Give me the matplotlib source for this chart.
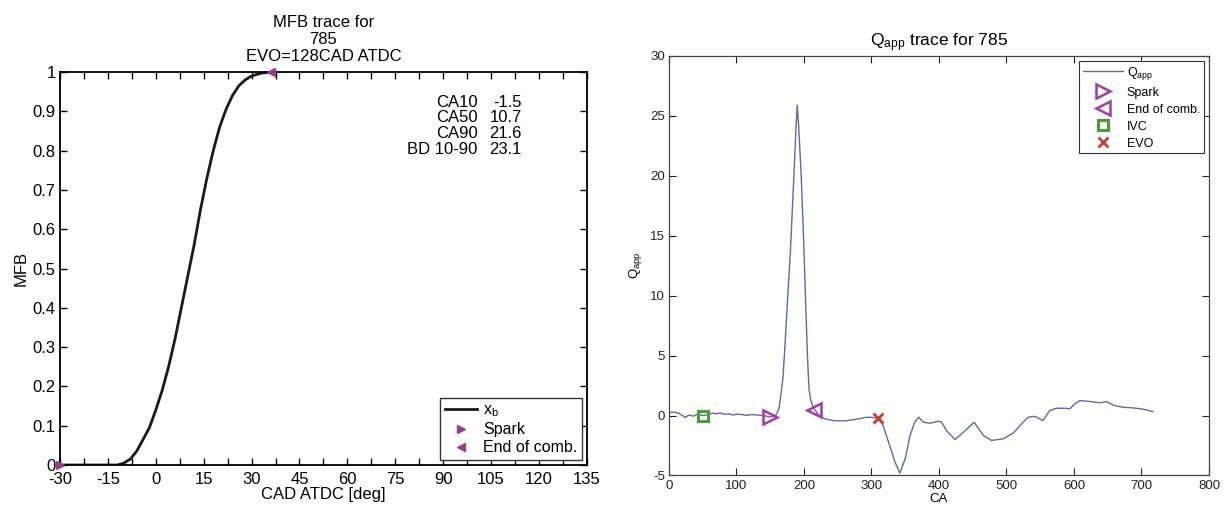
import matplotlib
matplotlib.use('Agg')
import matplotlib.pyplot as plt
import numpy as np
from matplotlib.ticker import MultipleLocator, FormatStrFormatter

plt.rcParams['font.family'] = ['Liberation Sans', 'DejaVu Sans']
plt.rcParams['mathtext.fontset'] = 'custom'
plt.rcParams['mathtext.rm'] = 'Liberation Sans'
plt.rcParams['mathtext.it'] = 'Liberation Sans:italic'
plt.rcParams['axes.unicode_minus'] = False

# --- MFB trace (left) ---
cad = [-30, -12, -10, -8, -6, -4, -2, 0, 2, 4, 6, 8, 10, 12, 14, 16, 18,
       20, 22, 24, 26, 28, 30, 33, 36]
mfb = [0, 0, 0.005, 0.015, 0.035, 0.065, 0.095, 0.14, 0.19, 0.25, 0.32, 0.40,
       0.48, 0.56, 0.65, 0.73, 0.80, 0.86, 0.905, 0.94, 0.965, 0.98, 0.99,
       0.997, 1.0]
spark_mfb = (-30, 0)
eoc_mfb = (36, 1)
ca_names = ['CA10', 'CA50', 'CA90', 'BD 10-90']
ca_vals = ['-1.5', '10.7', '21.6', '23.1']

# --- Qapp trace (right) ---
ca = [0, 8, 14, 20, 24, 30, 36, 42, 51, 58, 64, 70, 76, 82, 88, 95, 102, 108,
      115, 122, 130, 140, 150, 157, 161, 163, 166, 169, 172, 176, 180, 185,
      188, 190, 192, 196, 200, 203, 205.5, 207.5, 210, 213, 216, 221, 231,
      246, 261, 275, 293, 300, 310, 317, 327, 335, 342, 350, 357, 364, 370,
      377, 387, 399, 404, 411, 424, 436, 452, 466, 478, 495, 510, 520, 532,
      542, 554, 564, 574, 587, 594, 601, 609, 624, 638, 648, 660, 673, 688,
      703, 717]
qapp = [0.25, 0.28, 0.2, 0.0, -0.15, 0.05, -0.05, 0.1, 0.0, 0.1, 0.2, 0.15,
        0.22, 0.1, 0.15, 0.05, 0.12, 0.08, 0.02, 0.08, 0.05, 0.0, -0.12, -0.05,
        0.3, 0.6, 1.8, 3.2, 6.0, 10.0, 13.8, 19.9, 23.8, 25.9, 24.3, 19.9,
        13.9, 8.5, 4.5, 2.2, 1.3, 0.8, 0.5, 0.1, -0.28, -0.44, -0.44, -0.33,
        -0.14, -0.15, -0.22, -0.8, -2.5, -3.9, -4.8, -3.6, -1.7, -0.56, -0.14,
        -0.56, -0.64, -0.47, -0.56, -1.25, -2.0, -1.4, -0.56, -1.67, -2.08,
        -1.94, -1.47, -0.83, -0.14, -0.06, -0.42, 0.42, 0.61, 0.61, 0.56, 0.97,
        1.25, 1.17, 1.06, 1.17, 0.83, 0.69, 0.64, 0.53, 0.33]
spark_q = (150, -0.12)
eoc_q = (215, 0.5)
ivc_q = (51, 0.0)
evo_q = (310, -0.22)

purple = '#9a3c8c'
mag = '#a03ca8'

fig = plt.figure(figsize=(12.25, 5.08), dpi=100)

ax1 = fig.add_axes([0.049, 0.0846, 0.430, 0.7736])
ax1.plot(cad, mfb, color='#1a1a1a', lw=2, label=r'x$_\mathregular{b}$')
ax1.plot(*spark_mfb, '>', color=purple, ms=6, clip_on=False, zorder=5,
         label='Spark')
ax1.plot(*eoc_mfb, '<', color=purple, ms=6, clip_on=False, zorder=5,
         label='End of comb.')
ax1.set_xlim(-30, 135)
ax1.set_ylim(0, 1)
ax1.xaxis.set_major_locator(MultipleLocator(15))
ax1.xaxis.set_minor_locator(MultipleLocator(7.5))
ax1.yaxis.set_major_locator(MultipleLocator(0.1))
ax1.yaxis.set_major_formatter(FormatStrFormatter('%g'))
ax1.tick_params(which='both', direction='in', top=True, right=True,
                labelsize=12, length=5, width=1, pad=3)
ax1.tick_params(axis='x', pad=5)
for s in ax1.spines.values():
    s.set_linewidth(1.3)
ax1.set_xlabel('CAD ATDC [deg]', fontsize=12, labelpad=0)
ax1.set_ylabel('MFB', fontsize=12, labelpad=3)
ax1.set_title('MFB trace for\n785\nEVO=128CAD ATDC', fontsize=12,
              linespacing=1.15, pad=8)
ax1.text(0.793, 0.942, '\n'.join(ca_names), transform=ax1.transAxes,
         ha='right', va='top', fontsize=12, linespacing=1.05)
ax1.text(0.877, 0.942, '\n'.join(ca_vals), transform=ax1.transAxes,
         ha='right', va='top', fontsize=12, linespacing=1.05)
leg1 = ax1.legend(loc='lower right', fontsize=11.5, fancybox=False,
                  edgecolor='#333333', framealpha=1, handlelength=2.0,
                  labelspacing=0.2, borderaxespad=0.3, borderpad=0.3,
                  handletextpad=0.4)
leg1.get_frame().set_linewidth(1)

ax2 = fig.add_axes([0.5461, 0.064, 0.4408, 0.8258])
ax2.plot(ca, qapp, color='#6467a8', lw=1, label=r'Q$_\mathregular{app}$')
ax2.plot(*spark_q, '>', mfc='none', mec=mag, mew=1.8, ms=10, ls='none',
         label='Spark')
ax2.plot(*eoc_q, '<', mfc='none', mec=mag, mew=1.8, ms=10, ls='none',
         label='End of comb.')
ax2.plot(*ivc_q, 's', mfc='none', mec='#4a9e3a', mew=2.2, ms=7, ls='none',
         label='IVC')
ax2.plot(*evo_q, 'x', color='#c8402e', mew=2, ms=7, ls='none', label='EVO')
ax2.set_xlim(0, 800)
ax2.set_ylim(-5, 30)
ax2.xaxis.set_major_locator(MultipleLocator(100))
ax2.yaxis.set_major_locator(MultipleLocator(5))
ax2.tick_params(direction='in', top=True, right=True, labelsize=9.5,
                length=5, width=0.8, pad=3, colors='#222222')
for s in ax2.spines.values():
    s.set_linewidth(0.9)
    s.set_color('#444444')
ax2.set_xlabel('CA', fontsize=9.5, labelpad=1)
ax2.set_ylabel(r'Q$_\mathregular{app}$', fontsize=9.5, labelpad=4)
ax2.set_title(r'Q$_\mathregular{app}$ trace for 785', fontsize=12.5, pad=7)
leg2 = ax2.legend(loc='upper right', fontsize=9, fancybox=False,
                  edgecolor='#333333', framealpha=1, handlelength=3.2,
                  labelspacing=0.4, borderaxespad=0.4, borderpad=0.3,
                  handletextpad=0.3)
leg2.get_frame().set_linewidth(0.8)

fig.savefig('out.png', dpi=100)
